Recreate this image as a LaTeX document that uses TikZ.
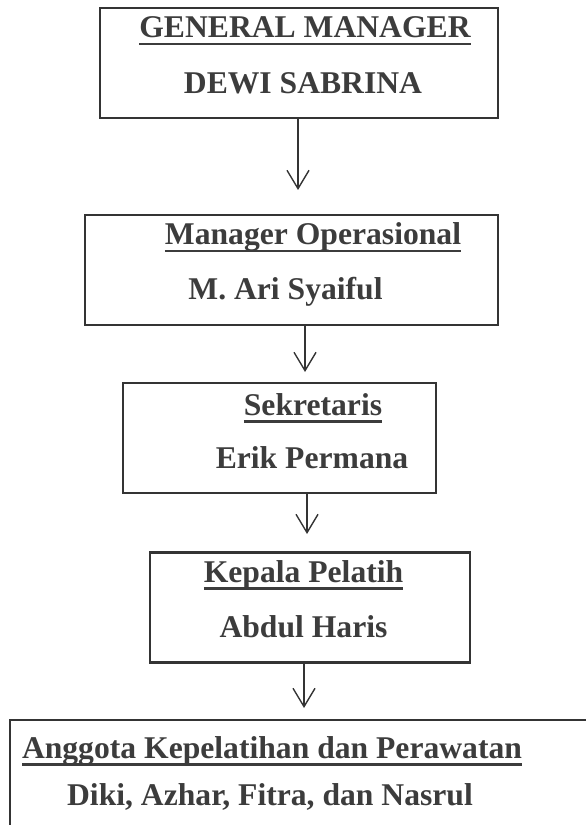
\documentclass[tikz,border=0pt]{standalone}
\usepackage{fontspec}
\setmainfont{Liberation Serif}
\usetikzlibrary{arrows.meta}
\definecolor{inkgray}{RGB}{60,60,60}
\definecolor{linegray}{RGB}{52,52,52}
% underline at a fixed depth, as the word processor draws it
\newcommand{\undl}[1]{\setbox0=\hbox{#1}\rlap{\rule[-6.4pt]{\wd0}{2.2pt}}\box0}

\begin{document}
\begin{tikzpicture}[x=0.03cm,y=-0.03cm,line cap=butt,
  orgbox/.style={draw=linegray,line width=2pt,inner sep=0pt,minimum height=3.3cm},
  boxtext/.style={anchor=base,inner sep=0pt,text=inkgray,font=\fontsize{27pt}{32pt}\selectfont\bfseries},
  downarrow/.style={draw=linegray,line width=1.2pt,-{Straight Barb[length=0.55cm,width=0.66cm,line width=1.2pt]}}]
\useasboundingbox (0,0) rectangle (585,825);
% boxes
\node[orgbox,minimum width=11.94cm] (gm) at (299,63) {};
\node[orgbox,minimum width=12.39cm] (mo) at (291.5,270) {};
\node[orgbox,minimum width=9.39cm] (sek) at (279.5,438) {};
\node[orgbox,minimum width=9.6cm] (kp) at (310,607.5) {};
\node[orgbox,minimum width=18.6cm] (akp) at (320,775) {};
% texts
\node[boxtext] (gmt) at (305,38) {\undl{GENERAL MANAGER}};
\node[boxtext] (gmn) at (303,94) {DEWI SABRINA};
\node[boxtext] (mot) at (313,245) {\undl{Manager Operasional}};
\node[boxtext] (mon) at (285.5,300) {M. Ari Syaiful};
\node[boxtext] (sekt) at (313,415) {\undl{Sekretaris}};
\node[boxtext] (sekn) at (312,468) {Erik Permana};
\node[boxtext] (kpt) at (303.5,582) {\undl{Kepala Pelatih}};
\node[boxtext] (kpn) at (303.5,637) {Abdul Haris};
\node[boxtext] (akpt) at (272,758) {\undl{Anggota Kepelatihan dan Perawatan}};
\node[boxtext] (akpn) at (270,805) {Diki, Azhar, Fitra, dan Nasrul};
% arrows
\coordinate (a1) at (298,190);
\coordinate (a2) at (305,372);
\coordinate (a3) at (307,534);
\coordinate (a4) at (304,708);
\draw[downarrow] (gm.south -| a1) -- (a1);
\draw[downarrow] (mo.south -| a2) -- (a2);
\draw[downarrow] (sek.south -| a3) -- (a3);
\draw[downarrow] (kp.south -| a4) -- (a4);
\end{tikzpicture}
\end{document}
